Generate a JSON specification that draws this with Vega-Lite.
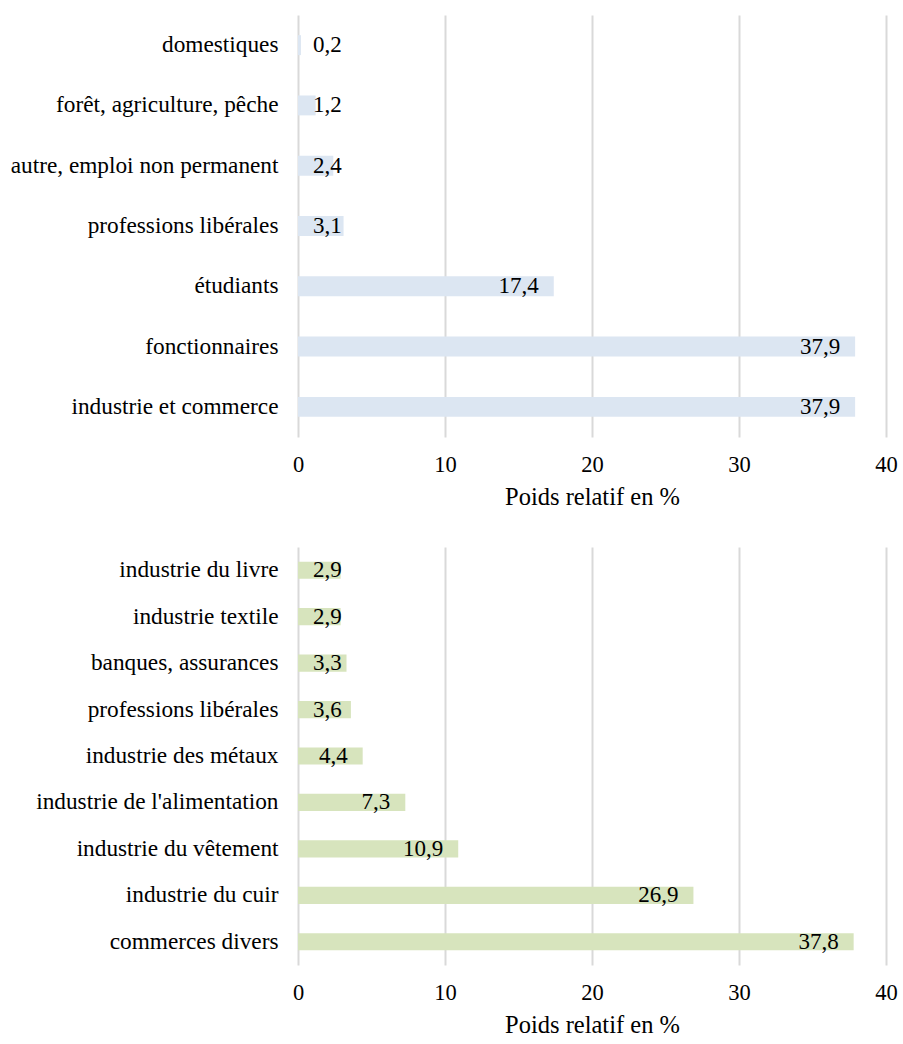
{
  "$schema": "https://vega.github.io/schema/vega-lite/v6.json",
  "padding": {"top": 15, "left": 0, "right": 0, "bottom": 0},
  "spacing": 38,
  "config": {
    "view": {"stroke": null},
    "locale": {"number": {"decimal": ",", "thousands": " ", "grouping": [3], "currency": ["", " €"]}},
    "axis": {"labelColor": "#000000", "titleColor": "#000000", "titleFontWeight": "normal", "domain": false, "ticks": false},
    "text": {"fontSize": 23, "color": "#000000"}
  },
  "vconcat": [
    {
      "width": 588,
      "height": 422,
      "data": {"values": [
        {"cat": "domestiques", "value": 0.2},
        {"cat": "forêt, agriculture, pêche", "value": 1.2},
        {"cat": "autre, emploi non permanent", "value": 2.4},
        {"cat": "professions libérales", "value": 3.1},
        {"cat": "étudiants", "value": 17.4},
        {"cat": "fonctionnaires", "value": 37.9},
        {"cat": "industrie et commerce", "value": 37.9}
      ]},
      "encoding": {
        "y": {"field": "cat", "type": "nominal", "sort": null, "title": null,
          "scale": {"paddingInner": 0.67, "paddingOuter": 0.335},
          "axis": {"labelFont": "Liberation Serif", "labelFontSize": 23.3, "labelPadding": 20, "labelLimit": 300, "minExtent": 298, "maxExtent": 298, "grid": false}}
      },
      "layer": [
        {"mark": {"type": "bar", "color": "#dce6f2"},
          "encoding": {"x": {"field": "value", "type": "quantitative", "scale": {"domain": [0, 40]},
            "axis": {"labelFont": "Liberation Serif", "titleFont": "Liberation Serif", "values": [0, 10, 20, 30, 40], "labelFlush": false, "grid": true, "gridColor": "#d9d9d9", "gridWidth": 2, "labelFontSize": 22.5, "labelPadding": 16, "title": "Poids relatif en %", "titleFontSize": 24.5, "titlePadding": 10}}}},
        {"transform": [{"filter": "datum.value >= 4"}],
          "mark": {"type": "text", "font": "Liberation Serif", "align": "right", "dx": -15, "baseline": "middle"},
          "encoding": {"x": {"field": "value", "type": "quantitative"}, "text": {"field": "value", "type": "quantitative", "format": ".1f"}}},
        {"transform": [{"filter": "datum.value < 4"}],
          "mark": {"type": "text", "font": "Liberation Serif", "align": "left", "dx": 15, "baseline": "middle"},
          "encoding": {"x": {"datum": 0, "type": "quantitative"}, "text": {"field": "value", "type": "quantitative", "format": ".1f"}}}
      ]
    },
    {
      "width": 588,
      "height": 418,
      "data": {"values": [
        {"cat": "industrie du livre", "value": 2.9},
        {"cat": "industrie textile", "value": 2.9},
        {"cat": "banques, assurances", "value": 3.3},
        {"cat": "professions libérales", "value": 3.6},
        {"cat": "industrie des métaux", "value": 4.4},
        {"cat": "industrie de l'alimentation", "value": 7.3},
        {"cat": "industrie du vêtement", "value": 10.9},
        {"cat": "industrie du cuir", "value": 26.9},
        {"cat": "commerces divers", "value": 37.8}
      ]},
      "encoding": {
        "y": {"field": "cat", "type": "nominal", "sort": null, "title": null,
          "scale": {"paddingInner": 0.63, "paddingOuter": 0.315},
          "axis": {"labelFont": "Liberation Serif", "labelFontSize": 23.3, "labelPadding": 20, "labelLimit": 300, "minExtent": 298, "maxExtent": 298, "grid": false}}
      },
      "layer": [
        {"mark": {"type": "bar", "color": "#d7e4bd"},
          "encoding": {"x": {"field": "value", "type": "quantitative", "scale": {"domain": [0, 40]},
            "axis": {"labelFont": "Liberation Serif", "titleFont": "Liberation Serif", "values": [0, 10, 20, 30, 40], "labelFlush": false, "grid": true, "gridColor": "#d9d9d9", "gridWidth": 2, "labelFontSize": 22.5, "labelPadding": 16, "title": "Poids relatif en %", "titleFontSize": 24.5, "titlePadding": 10}}}},
        {"transform": [{"filter": "datum.value >= 4"}],
          "mark": {"type": "text", "font": "Liberation Serif", "align": "right", "dx": -15, "baseline": "middle"},
          "encoding": {"x": {"field": "value", "type": "quantitative"}, "text": {"field": "value", "type": "quantitative", "format": ".1f"}}},
        {"transform": [{"filter": "datum.value < 4"}],
          "mark": {"type": "text", "font": "Liberation Serif", "align": "left", "dx": 15, "baseline": "middle"},
          "encoding": {"x": {"datum": 0, "type": "quantitative"}, "text": {"field": "value", "type": "quantitative", "format": ".1f"}}}
      ]
    }
  ]
}
